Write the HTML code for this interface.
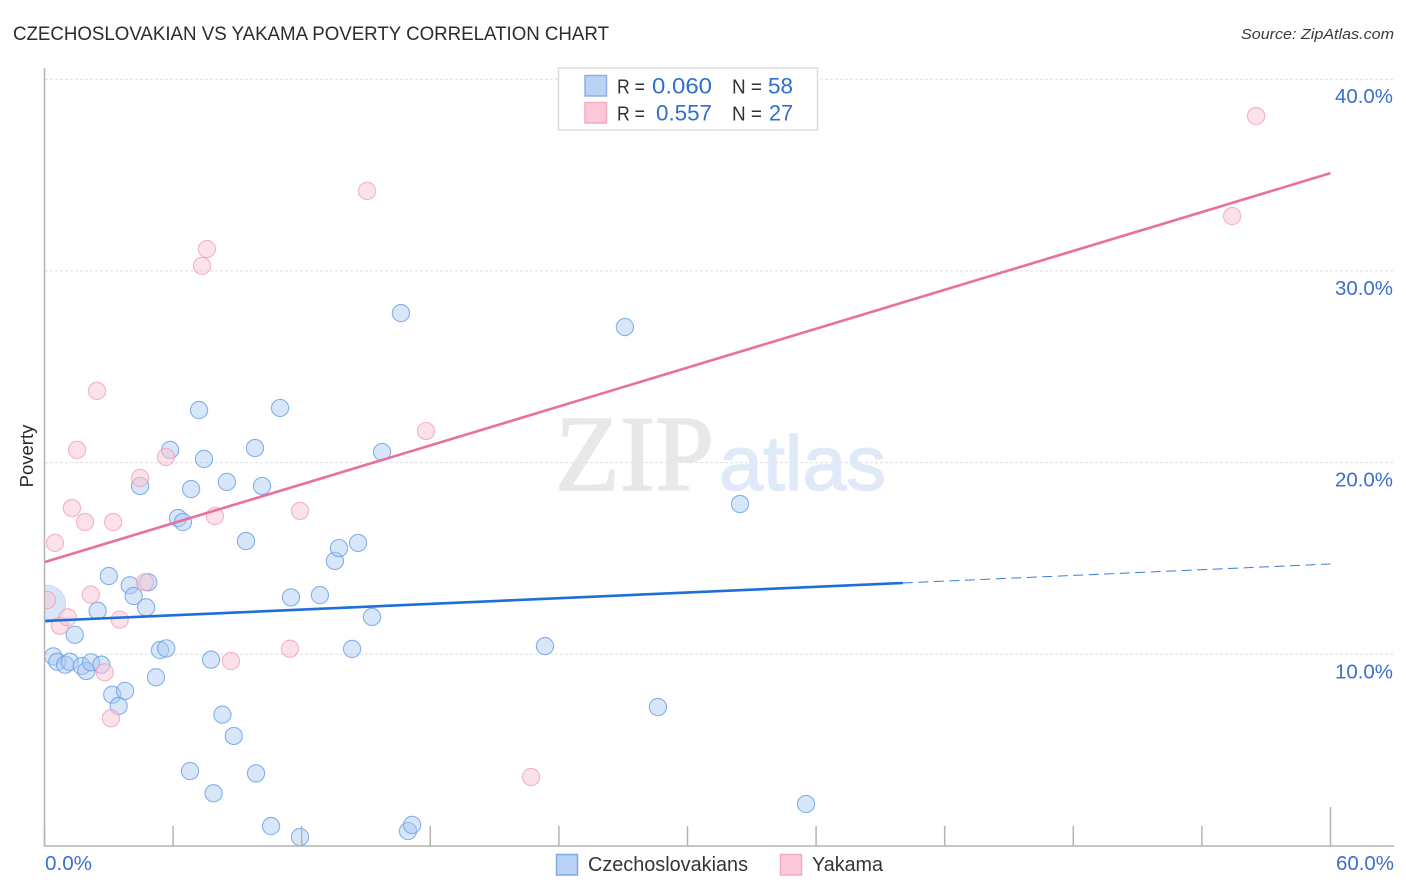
<!DOCTYPE html>
<html lang="en">
<head>
<meta charset="utf-8">
<title>Czechoslovakian vs Yakama Poverty Correlation Chart</title>
<style>
html,body{margin:0;padding:0;background:#fff;}
#stage{display:block;}
text{font-family:"Liberation Sans",sans-serif;}
</style>
</head>
<body>
<svg id="stage" xmlns="http://www.w3.org/2000/svg" width="1406" height="892" viewBox="0 0 1406 892">
  <defs>
    <clipPath id="plot-clip"><rect x="44" y="60" width="1350" height="786"/></clipPath>
  </defs>
  <rect x="0" y="0" width="1406" height="892" fill="#ffffff"/>
  <text x="13" y="40" font-size="19.5" fill="#2b2b33" textLength="596" lengthAdjust="spacingAndGlyphs">CZECHOSLOVAKIAN VS YAKAMA POVERTY CORRELATION CHART</text>
  <text x="1394" y="39" font-size="15" font-style="italic" fill="#3a3a3a" text-anchor="end" textLength="153" lengthAdjust="spacingAndGlyphs">Source: ZipAtlas.com</text>

  <g id="grid"></g>

  <g>
    <text x="555" y="490" font-size="108" fill="#e8e8e8" stroke="#e8e8e8" stroke-width="1.6" textLength="159" lengthAdjust="spacingAndGlyphs" style="font-family:'Liberation Serif',serif">ZIP</text>
    <text x="719" y="490" font-size="77" fill="#dfe9f8" stroke="#dfe9f8" stroke-width="1.4" textLength="167" lengthAdjust="spacingAndGlyphs">atlas</text>
  </g>

  <g id="marks" clip-path="url(#plot-clip)"></g>
  <g id="trends"></g>
  <g id="axes"></g>
  <g id="tick-labels"></g>

  <text transform="translate(33,456) rotate(-90)" font-size="18.5" fill="#2b2b33" text-anchor="middle">Poverty</text>

  <g>
    <rect x="558.5" y="68" width="259" height="62" fill="#ffffff" stroke="#dedede" stroke-width="1.5"/>
    <rect x="585" y="75.5" width="21.5" height="20.5" fill="#b9d3f5" stroke="#8fb0e0" stroke-width="1.5"/>
    <rect x="585" y="102.5" width="21.5" height="20.5" fill="#fbc9d9" stroke="#f3a9c0" stroke-width="1.5"/>
    <text x="617" y="93.5" font-size="20" fill="#333333" textLength="28" lengthAdjust="spacingAndGlyphs">R =</text>
    <text x="652" y="93.5" font-size="22" fill="#2f6fcf" textLength="60" lengthAdjust="spacingAndGlyphs">0.060</text>
    <text x="732" y="93.5" font-size="20" fill="#333333" textLength="30" lengthAdjust="spacingAndGlyphs">N =</text>
    <text x="768" y="93.5" font-size="22" fill="#2f6fcf" textLength="25" lengthAdjust="spacingAndGlyphs">58</text>
    <text x="617" y="120.5" font-size="20" fill="#333333" textLength="28" lengthAdjust="spacingAndGlyphs">R =</text>
    <text x="656" y="120.5" font-size="22" fill="#2f6fcf" textLength="56" lengthAdjust="spacingAndGlyphs">0.557</text>
    <text x="732" y="120.5" font-size="20" fill="#333333" textLength="30" lengthAdjust="spacingAndGlyphs">N =</text>
    <text x="769" y="120.5" font-size="22" fill="#2f6fcf" textLength="24" lengthAdjust="spacingAndGlyphs">27</text>
  </g>

  <g>
    <g>
      <rect x="556.5" y="854.5" width="21" height="20.5" fill="#b9d3f5" stroke="#7fa9e2" stroke-width="1.5"/>
      <text x="588" y="871" font-size="20" fill="#33343c" textLength="160" lengthAdjust="spacingAndGlyphs">Czechoslovakians</text>
    </g>
    <g>
      <rect x="780.5" y="854.5" width="21" height="20.5" fill="#fbc9d9" stroke="#f3a9c0" stroke-width="1.5"/>
      <text x="812" y="871" font-size="20" fill="#33343c" textLength="71" lengthAdjust="spacingAndGlyphs">Yakama</text>
    </g>
  </g>
</svg>

<script>
// Chart data (x = share %, y = poverty %)
const czechoslovakiansX = [0.10,0.41,0.60,0.96,1.18,1.74,1.95,2.17,2.65,1.41,2.48,3.00,3.98,4.16,4.74,4.84,3.16,3.76,3.46,5.20,5.39,5.68,7.77,8.30,8.83,6.79,9.87,7.89,10.57,11.92,4.46,5.86,7.21,7.44,6.84,6.23,6.46,8.51,9.82,10.15,10.99,9.40,11.50,12.85,13.55,13.74,14.63,15.28,14.35,15.75,16.63,27.08,32.45,23.35,28.62,35.53,16.96,17.15];
const czechoslovakiansY = [12.62,9.89,9.61,9.46,9.61,9.39,9.13,9.58,9.46,11.02,12.27,14.08,13.60,13.04,12.45,13.76,7.89,8.09,7.30,8.80,10.22,10.31,9.72,6.85,5.74,3.91,3.79,2.75,1.04,0.47,18.78,20.66,22.74,20.19,18.62,17.11,16.90,18.99,20.76,18.78,22.85,15.91,12.97,13.09,14.87,15.54,15.81,11.95,10.28,20.55,27.80,27.07,17.84,10.43,7.25,2.19,0.78,1.10];
const yakamaX = [0.12,0.49,0.72,1.08,1.28,1.52,1.89,2.16,2.45,2.81,3.10,3.20,3.51,4.46,4.69,5.67,7.35,7.58,7.95,8.70,11.45,11.92,15.05,17.80,22.70,55.41,56.53];
const yakamaY = [12.83,15.81,11.49,11.93,17.63,20.66,16.90,13.11,23.74,9.06,6.66,16.90,11.81,19.20,13.76,20.29,30.26,31.14,17.21,9.65,10.29,17.48,34.17,21.65,3.60,32.86,38.08];
const yTickValues = [10,20,30,40];
const yTickLabels = ["10.0%","20.0%","30.0%","40.0%"];
const xTickValues = [0,6,12,18,24,30,36,42,48,54,60];
const xEndValues = [0,60];
const xEndLabels = ["0.0%","60.0%"];
const blueTrendX = [0,40.05,60];
const blueTrendY = [11.74,13.72,14.71];
const pinkTrendX = [0,60];
const pinkTrendY = [14.81,35.10];

// Axis functions
const xAxis = function (v) { return 44.5 + v * 21.433; };
const yAxis = function (v) { return 846 - v * 19.17; };

const NS = 'http://www.w3.org/2000/svg';
function make(tag, parent, props) {
  const el = document.createElementNS(NS, tag);
  for (const k in props) el.setAttribute(k, props[k]);
  parent.appendChild(el);
  return el;
}

const gridG = document.getElementById('grid');
yTickValues.forEach(function (v) {
  const line = make('line', gridG, { x1: 45, x2: 1394, y1: yAxis(v), y2: yAxis(v), stroke: '#dfdfdf', 'stroke-width': 1, 'stroke-dasharray': '3 2' });
  
  
});

const marksG = document.getElementById('marks');
czechoslovakiansX.forEach(function (x, i) {
  const c = make('circle', marksG, { cx: xAxis(x), cy: yAxis(czechoslovakiansY[i]), r: i === 0 ? 19 : 8.6, fill: '#a9c9f2', 'fill-opacity': 0.46, stroke: '#6a9fe4', 'stroke-opacity': i === 0 ? 0.25 : 0.8, 'stroke-width': 1.1 });
  
  
});
yakamaX.forEach(function (x, i) {
  const c = make('circle', marksG, { cx: xAxis(x), cy: yAxis(yakamaY[i]), r: 8.6, fill: '#f8c3d4', 'fill-opacity': 0.5, stroke: '#f09db7', 'stroke-opacity': 0.75, 'stroke-width': 1.1 });
  
  
});

const trendsG = document.getElementById('trends');
const pinkLine = make('line', trendsG, { x1: xAxis(pinkTrendX[0]), y1: yAxis(pinkTrendY[0]), x2: xAxis(pinkTrendX[1]), y2: yAxis(pinkTrendY[1]), stroke: '#e8709a', 'stroke-width': 2.6 });


const blueLine = make('line', trendsG, { x1: xAxis(blueTrendX[0]), y1: yAxis(blueTrendY[0]), x2: xAxis(blueTrendX[1]), y2: yAxis(blueTrendY[1]), stroke: '#1f6fd8', 'stroke-width': 2.6 });


const blueDash = make('line', trendsG, { x1: xAxis(blueTrendX[1]), y1: yAxis(blueTrendY[1]), x2: xAxis(blueTrendX[2]), y2: yAxis(blueTrendY[2]), stroke: '#3b7dd8', 'stroke-width': 1, 'stroke-dasharray': '10 5.5' });



const axesG = document.getElementById('axes');
const yLine = make('line', axesG, { x1: 44.5, x2: 44.5, y1: 68, y2: 846, stroke: '#b4b4b4', 'stroke-width': 1.5 });


const xLine = make('line', axesG, { x1: 44, x2: 1394, y1: 846, y2: 846, stroke: '#b4b4b4', 'stroke-width': 1.5 });


xTickValues.forEach(function (v, i) {
  const isEnd = i === xTickValues.length - 1;
  const t = make('line', axesG, { x1: xAxis(v), x2: xAxis(v), y1: isEnd ? 807 : 826, y2: 846, stroke: '#b4b4b4', 'stroke-width': 1.5 });
  
  
});

const labelsG = document.getElementById('tick-labels');
yTickValues.forEach(function (v, i) {
  const t = make('text', labelsG, { x: 1335, y: yAxis(v) + 24, 'font-size': 20, fill: '#3b6fd0', textLength: 58, lengthAdjust: 'spacingAndGlyphs' });
  t.textContent = yTickLabels[i];
  
  
});
xEndValues.forEach(function (v, i) {
  const t = make('text', labelsG, { x: i === 0 ? xAxis(v) + 0.5 : xAxis(v) + 5.5, y: 870, 'font-size': 20, fill: '#3b6fd0', textLength: i === 0 ? 47 : 58, lengthAdjust: 'spacingAndGlyphs' });
  t.textContent = xEndLabels[i];
  
  
});
</script>
</body>
</html>
